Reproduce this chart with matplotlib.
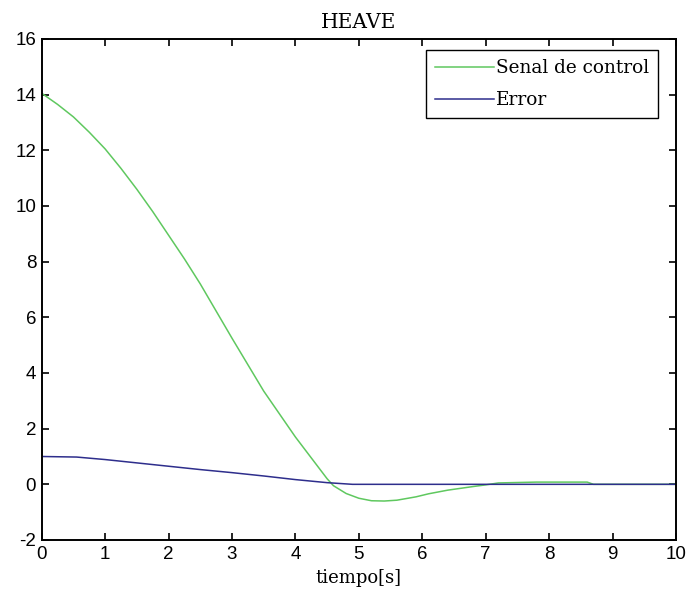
import numpy as np
import matplotlib.pyplot as plt

plt.rcParams['axes.unicode_minus'] = False

# Control signal and error over time (heave loop)
t_control = [0, 0.25, 0.5, 0.75, 1.0, 1.25, 1.5, 1.75, 2.0, 2.25, 2.5, 3.0, 3.5,
             4.0, 4.3, 4.5, 4.6, 4.8, 5.0, 5.2, 5.4, 5.6, 5.9, 6.1, 6.4, 6.8,
             7.0, 7.2, 7.8, 8.6, 8.7, 10]
u_control = [14.05, 13.65, 13.2, 12.65, 12.05, 11.35, 10.6, 9.8, 8.95, 8.1, 7.2, 5.25, 3.35,
             1.7, 0.8, 0.2, -0.05, -0.33, -0.5, -0.59, -0.6, -0.57, -0.45, -0.34, -0.21, -0.08,
             -0.02, 0.05, 0.08, 0.08, 0.0, 0.0]

t_error = [0, 0.55, 1.0, 1.5, 2.0, 2.5, 3.0, 3.5, 4.0, 4.5, 4.9, 10]
e_error = [1.0, 0.98, 0.89, 0.77, 0.65, 0.53, 0.42, 0.30, 0.17, 0.06, 0.0, 0.0]

xticks = np.arange(0, 11, 1)
yticks = np.arange(-2, 17, 2)

tick_font = ['Liberation Sans', 'DejaVu Sans']
serif_font = ['DejaVu Serif']

fig = plt.figure(figsize=(6.86, 5.98), dpi=100)
ax = fig.add_axes([0.0608, 0.097, 0.9246, 0.8378])

ax.plot(t_control, u_control, color='#5fc85f', lw=1.1, label='Senal de control')
ax.plot(t_error, e_error, color='#2e2e8c', lw=1.1, label='Error')

ax.set_xlim(0, 10)
ax.set_ylim(-2, 16)
ax.set_xticks(xticks)
ax.set_yticks(yticks)
ax.tick_params(direction='in', length=5, width=1.2, top=True, right=True,
               labelsize=13.5, pad=4)
for lab in ax.get_xticklabels() + ax.get_yticklabels():
    lab.set_family(tick_font)
for sp in ax.spines.values():
    sp.set_linewidth(1.4)

ax.set_title('HEAVE', family=serif_font, fontsize=14.5, pad=8)
ax.set_xlabel('tiempo[s]', family=serif_font, fontsize=13, labelpad=5)

leg = ax.legend(loc='upper right', bbox_to_anchor=(0.972, 0.978), borderaxespad=0,
                fancybox=False, edgecolor='black', framealpha=1,
                prop={'family': serif_font, 'size': 13.3},
                handlelength=3.2, handletextpad=0.1, labelspacing=0.75,
                borderpad=0.5)
leg.get_frame().set_linewidth(1.0)

fig.savefig('out.png', dpi=100)
